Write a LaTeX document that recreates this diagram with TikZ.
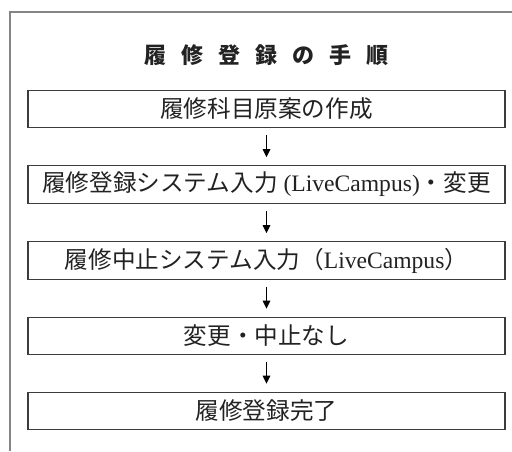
\documentclass[tikz,border=0pt]{standalone}
\usepackage{fontspec}
\setmainfont{Liberation Serif}
\newfontfamily\jp{Noto Sans CJK JP}
\usetikzlibrary{arrows.meta}
\definecolor{framegray}{HTML}{858585}
\definecolor{boxline}{HTML}{3C3C3C}
\definecolor{txt}{HTML}{222222}
\begin{document}
\begin{tikzpicture}[x=1pt,y=-1pt,
  frame/.style={draw=framegray, line width=2pt},
  titletext/.style={inner sep=0pt, text=txt, font=\jp\bfseries\fontsize{22}{25}\selectfont},
  stepbox/.style={draw=boxline, line width=1.2pt, minimum width=477pt, minimum height=37.5pt, inner sep=0pt, text=txt, font=\fontsize{23.6}{26}\selectfont},
  flow/.style={draw=black, line width=1.2pt, shorten <=7pt, shorten >=8pt, -{Triangle[length=8pt,width=7.5pt]}}]
\useasboundingbox (0,0) rectangle (512,451);
\draw[frame] (512,11.5) -- (10,11.5) -- (10,451);
\node[titletext] (t) at (266.5,55) {履\hspace{15pt}修\hspace{15pt}登\hspace{15pt}録\hspace{15pt}の\hspace{15pt}手\hspace{15pt}順};
\node[stepbox] (b1) at (266.5,109) {\jp 履修科目原案の作成};
\node[stepbox] (b2) at (266.5,184.5) {{\jp 履修登録システム入力} (LiveCampus){\jp ・変更}};
\node[stepbox] (b3) at (266.5,260.5) {{\jp 履修中止システム入力（}LiveCampus{\jp ）}};
\node[stepbox] (b4) at (266.5,336) {\jp 変更・中止なし};
\node[stepbox] (b5) at (266.5,411) {\jp 履修登録完了};
\draw[flow] (b1) -- (b2);
\draw[flow] (b2) -- (b3);
\draw[flow] (b3) -- (b4);
\draw[flow] (b4) -- (b5);
\end{tikzpicture}
\end{document}
